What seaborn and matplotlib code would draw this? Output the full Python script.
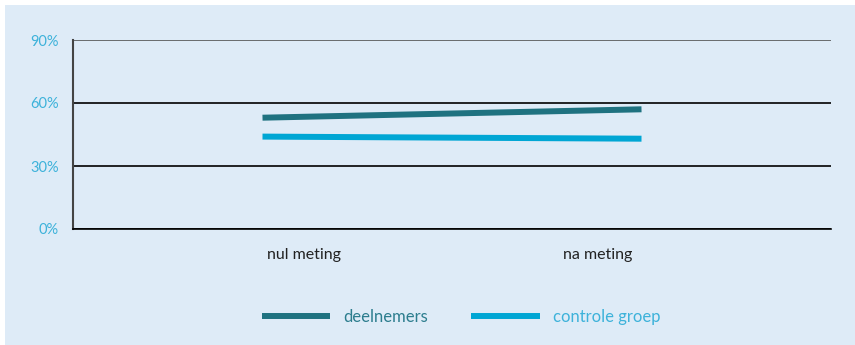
import matplotlib
matplotlib.use("Agg")
import matplotlib.pyplot as plt
import matplotlib.transforms as mtransforms
from matplotlib.patches import Rectangle
from matplotlib.lines import Line2D
import seaborn as sns
import pandas as pd

# Data
metingen = ["nul meting", "na meting"]
deelnemers = [53, 57]
controle_groep = [44, 43]
groepen = ["deelnemers", "controle groep"]
y_ticks = [0, 30, 60, 90]
y_labels = ["0%", "30%", "60%", "90%"]

df = pd.DataFrame({
    "meting": metingen * 2,
    "pos": [0, 1] * 2,
    "waarde": deelnemers + controle_groep,
    "groep": [groepen[0]] * 2 + [groepen[1]] * 2,
})

sns.set_theme(style="white")
plt.rcParams["font.family"] = ["Lato", "DejaVu Sans"]

panel = "#DEEBF7"
col_deel = "#1F7280"
col_ctrl = "#00A6D4"
tick_blue = "#3DB2DA"

fig = plt.figure(figsize=(8.55, 3.45), dpi=100)
fig.patch.set_facecolor("white")
fig.patches.append(Rectangle((5 / 855, 0), 1, 1 - 5 / 345, transform=fig.transFigure,
                             facecolor=panel, edgecolor="none", zorder=-10))

ax = fig.add_axes([73 / 855, 116 / 345, 758 / 855, 189 / 345])
ax.set_facecolor("none")

sns.lineplot(data=df, x="pos", y="waarde", hue="groep",
             palette={groepen[0]: col_deel, groepen[1]: col_ctrl},
             linewidth=4.3, ax=ax, legend=False, solid_capstyle="butt")

ax.set_xlim(-0.5, 1.5)
ax.set_ylim(0, 90)
ax.set_yticks(y_ticks)
ax.set_yticklabels(y_labels, color=tick_blue, fontsize=10.5)
ax.set_xticks([0, 1])
ax.set_xticklabels(metingen, color="#222222", fontsize=11.5)
ax.set_xlabel("")
ax.set_ylabel("")
ax.tick_params(axis="both", length=0)
ax.tick_params(axis="y", pad=10)
ax.tick_params(axis="x", pad=14)

# shift the category labels toward the centre
shifts = [41, -44]
for lab, dx in zip(ax.get_xticklabels(), shifts):
    lab.set_transform(lab.get_transform() +
                      mtransforms.ScaledTranslation(dx / 100, 0, fig.dpi_scale_trans))

ax.yaxis.grid(True, color="black", linewidth=1.2)
ax.xaxis.grid(False)
for side in ["top", "right"]:
    ax.spines[side].set_visible(False)
ax.spines["left"].set_color("#444444")
ax.spines["left"].set_linewidth(1.5)
ax.spines["bottom"].set_color("black")
ax.spines["bottom"].set_linewidth(1.2)
ax.get_ygridlines()[-1].set_color("#555555")

handles = [Line2D([0], [0], color=col_deel, lw=4.3, solid_capstyle="butt"),
           Line2D([0], [0], color=col_ctrl, lw=4.3, solid_capstyle="butt")]
leg = fig.legend(handles, groepen, loc="center", bbox_to_anchor=(461 / 855, 28 / 345),
                 ncol=2, frameon=False, fontsize=12, handlelength=4.1,
                 handletextpad=0.8, columnspacing=2.6)
for txt, c in zip(leg.get_texts(), ["#2C7D8E", tick_blue]):
    txt.set_color(c)

fig.savefig("out.png", dpi=100, facecolor=fig.get_facecolor())
